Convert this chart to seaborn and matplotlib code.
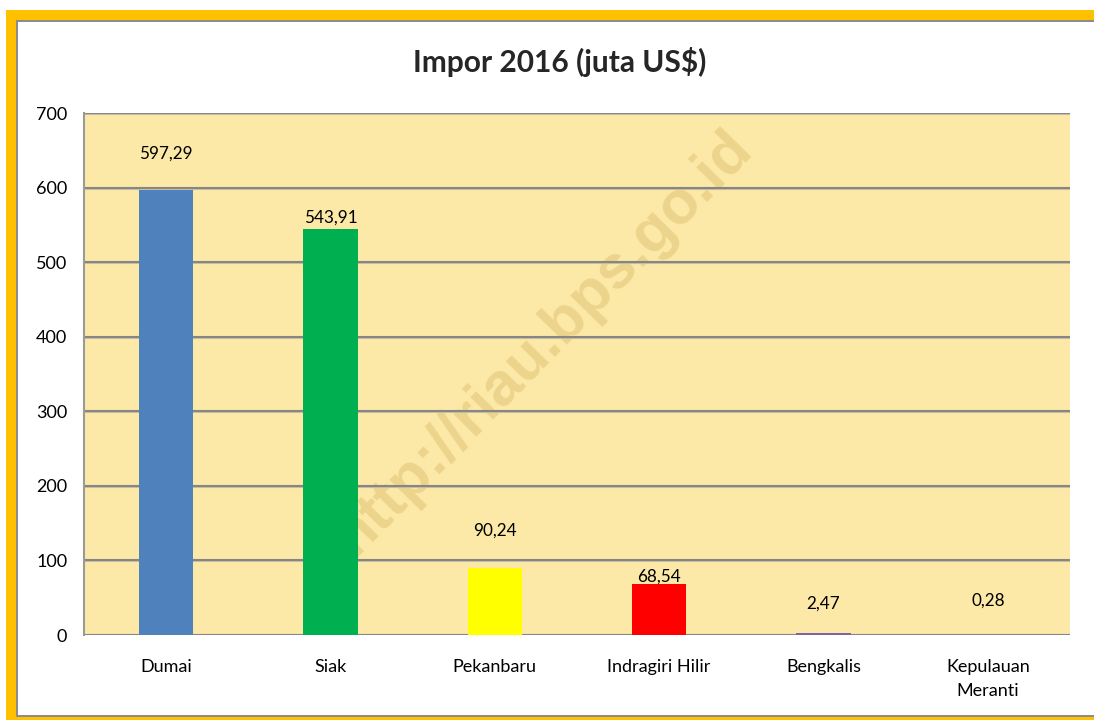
import matplotlib
matplotlib.use("Agg")
import matplotlib.pyplot as plt
import matplotlib.patches as mpatches
import seaborn as sns
import pandas as pd

categories = ["Dumai", "Siak", "Pekanbaru", "Indragiri Hilir", "Bengkalis", "Kepulauan\nMeranti"]
values = [597.29, 543.91, 90.24, 68.54, 2.47, 0.28]
value_labels = ["597,29", "543,91", "90,24", "68,54", "2,47", "0,28"]
bar_colors = ["#4F81BD", "#00B050", "#FFFF00", "#FF0000", "#8064A2", "#C0504D"]
label_offsets_pt = [26, 8.5, 26.5, 5, 21, 24.5]
yticks = [0, 100, 200, 300, 400, 500, 600, 700]
title = "Impor 2016 (juta US$)"

sns.set_theme(style="white")
plt.rcParams["font.family"] = ["Lato", "DejaVu Sans"]

W, H = 1094, 720
fig = plt.figure(figsize=(W / 100, H / 100), dpi=100)
fig.patch.set_facecolor("white")

# outer frame
def frect(x0, y0, x1, y1, color, z=0):
    fig.patches.append(mpatches.Rectangle((x0 / W, 1 - y1 / H), (x1 - x0) / W, (y1 - y0) / H,
                                          transform=fig.transFigure, facecolor=color,
                                          edgecolor="none", zorder=z))
frect(6, 10, W, 20, "#FFC000")
frect(6, 10, 16, H, "#FFC000")
frect(6, 717, W, H, "#FFC000")
frect(16, 20, W, 22, "#8C8C8C", 1)
frect(16, 20, 18, 717, "#8C8C8C", 1)
frect(16, 715, W, 717, "#8C8C8C", 1)

left, right, top, bottom = 84, 1070, 113, 635
ax = fig.add_axes([left / W, 1 - bottom / H, (right - left) / W, (bottom - top) / H])
ax.set_facecolor("#FDE9A7")

df = pd.DataFrame({"cat": categories, "val": values})
sns.barplot(data=df, x="cat", y="val", hue="cat", palette=bar_colors, width=0.33,
            legend=False, ax=ax, zorder=3, saturation=1, linewidth=0, edgecolor="none")

ax.set_ylim(0, 700)
ax.set_xlim(-0.5, len(categories) - 0.5)
ax.set_yticks(yticks)
ax.set_yticklabels([str(t) for t in yticks], fontsize=13, color="black")
ax.tick_params(axis="x", labelsize=13, pad=17, length=0, colors="black")
ax.tick_params(axis="y", pad=12, length=0)
for lab in ax.get_xticklabels():
    lab.set_linespacing(1.65)
ax.set_xlabel("")
ax.set_ylabel("")

for t in yticks:
    ax.axhline(t - 1.3, color="#C9C0A0", lw=0.8, zorder=1.8)
    ax.axhline(t, color="#868686", lw=1.5, zorder=2)

for s in ["top", "right", "bottom"]:
    ax.spines[s].set_visible(False)
ax.spines["left"].set_color("#9A9A9A")
ax.spines["left"].set_linewidth(1.5)

for i, (v, lab, off) in enumerate(zip(values, value_labels, label_offsets_pt)):
    ax.annotate(lab, (i, v), xytext=(0, off), textcoords="offset points",
                ha="center", va="center", fontsize=12.3, color="black", zorder=5)

# watermark (behind grid lines)
ax.text(543 / W, 1 - 343 / H, "http://riau.bps.go.id", transform=fig.transFigure,
        rotation=45.5, fontsize=44, fontweight="bold", family="Liberation Sans",
        color="#EDD48C", ha="center", va="center", zorder=1.5, clip_on=False)

fig.text(560 / W, 1 - 62 / H, title, ha="center", va="center", fontsize=21.5, fontweight="bold")

fig.savefig("out.png", dpi=100)
